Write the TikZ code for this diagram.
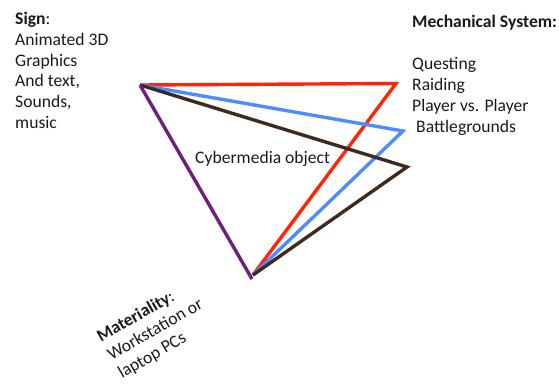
\documentclass[tikz,border=0pt]{standalone}
\usepackage{fontspec}
\setmainfont{Carlito}
\definecolor{linkred}{HTML}{FF2408}
\definecolor{linkblue}{HTML}{4D8BFF}
\definecolor{linkbrown}{HTML}{3E2A1F}
\definecolor{linkpurple}{HTML}{6D1F7C}
\definecolor{inktext}{HTML}{1A1A1A}
\tikzset{
  label/.style={inner sep=0pt, anchor=base west, text=inktext,
    font=\fontsize{17.6}{21}\selectfont},
  edge/.style={line width=3.4pt, line join=miter, line cap=butt},
}
\begin{document}
\begin{tikzpicture}[x=1pt, y=-1pt]
  \useasboundingbox (0,0) rectangle (559,384);

  % corners of the triangles
  \coordinate (sign) at (140,85);
  \coordinate (quest) at (396,83.5);
  \coordinate (pvp) at (403,131);
  \coordinate (bg) at (407,167);
  \coordinate (mat) at (253,275);
  \coordinate (matp) at (252,279);

  % one triangle per mechanic, sharing the sign and materiality corners
  \draw[edge, linkred] (sign) -- (quest) -- (mat);
  \draw[edge, linkblue] (sign) -- (pvp) -- (mat);
  \draw[edge, linkbrown] (sign) -- (bg) -- (mat);
  \draw[edge, linkpurple] (sign) -- (matp);

  % sign
  \node[label] (s1) at (15,24.5) {\textbf{Sign}:};
  \node[label] (s2) at (15,45.3) {Animated 3D};
  \node[label] (s3) at (15,66.1) {Graphics};
  \node[label] (s4) at (15,86.9) {And text,};
  \node[label] (s5) at (15,107.7) {Sounds,};
  \node[label] (s6) at (15,128.5) {music};

  % mechanical system
  \node[label] (m0) at (412,27.5) {\textbf{Mechanical System:}};
  \node[label] (m1) at (412,69.5) {Questing};
  \node[label] (m2) at (412,90.5) {Raiding};
  \node[label] (m3) at (412,111.5) {Player vs. Player};
  \node[label] (m4) at (416,132.5) {Battlegrounds};

  % centre
  \node[label] (obj) at (195,163) {Cybermedia object};

  % materiality, set on a slant
  \node[label, align=left, rotate=30] (mat-text) at (122,379)
    {\textbf{Materiality}:\\Workstation or\\laptop PCs};
\end{tikzpicture}
\end{document}
